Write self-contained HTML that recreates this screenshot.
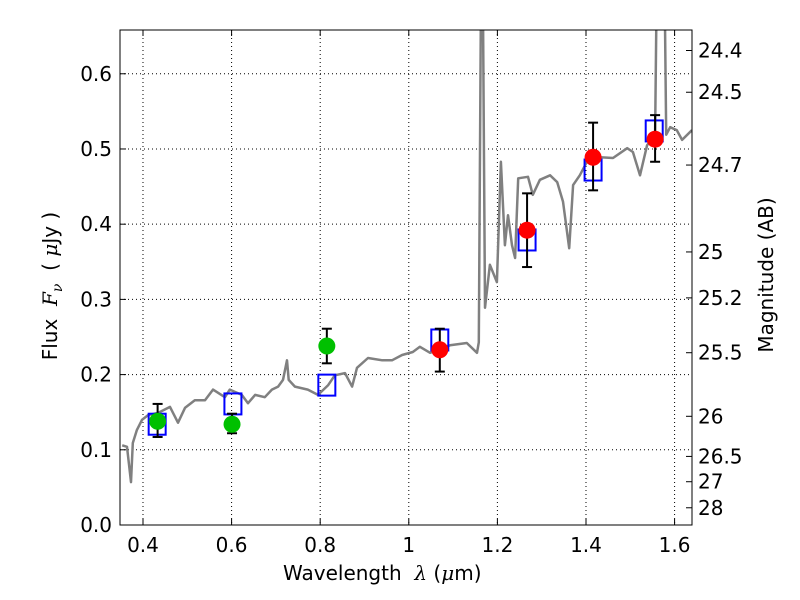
<!DOCTYPE html>
<html><head><meta charset="utf-8"><style>
html,body{margin:0;background:#fff;overflow:hidden;width:800px;height:600px;}
svg{display:block;}
svg text{font-family:"DejaVu Sans","Liberation Sans",sans-serif;fill:#000;}
</style></head><body>
<svg id="chart" width="800" height="600">
<defs><clipPath id="clip"><rect x="120" y="30" width="572" height="495"/></clipPath></defs>
<g id="grid"></g>
<g id="series" clip-path="url(#clip)"></g>
<g id="axes"></g>
</svg>
<script>
const specLam=[0.353,0.364,0.373,0.377,0.386,0.398,0.411,0.434,0.461,0.479,0.495,0.517,0.540,0.558,0.585,0.596,0.623,0.637,0.653,0.675,0.691,0.705,0.716,0.725,0.729,0.743,0.772,0.795,0.818,0.833,0.856,0.872,0.883,0.908,0.940,0.962,0.985,1.009,1.025,1.048,1.093,1.131,1.154,1.158,1.165,1.172,1.183,1.199,1.208,1.217,1.224,1.233,1.240,1.247,1.269,1.280,1.296,1.319,1.335,1.348,1.362,1.371,1.386,1.402,1.432,1.461,1.493,1.506,1.522,1.538,1.556,1.563,1.574,1.581,1.590,1.605,1.617,1.639];
const specFlux=[0.106,0.104,0.057,0.109,0.126,0.140,0.146,0.149,0.157,0.136,0.156,0.166,0.166,0.180,0.170,0.180,0.173,0.162,0.173,0.170,0.180,0.184,0.193,0.219,0.193,0.184,0.180,0.173,0.186,0.199,0.202,0.184,0.209,0.222,0.219,0.219,0.226,0.230,0.237,0.229,0.239,0.242,0.229,0.243,0.9,0.289,0.346,0.323,0.483,0.372,0.412,0.372,0.355,0.461,0.463,0.439,0.459,0.465,0.456,0.430,0.368,0.452,0.465,0.483,0.489,0.488,0.501,0.496,0.465,0.505,0.519,0.9,0.9,0.519,0.529,0.525,0.512,0.525];
const greenLam=[0.433,0.601,0.815];
const greenFlux=[0.138,0.134,0.238];
const greenErrLo=[0.117,0.122,0.215];
const greenErrHi=[0.161,0.148,0.261];
const redLam=[1.070,1.267,1.416,1.556];
const redFlux=[0.233,0.392,0.489,0.513];
const redErrLo=[0.204,0.343,0.445,0.483];
const redErrHi=[0.261,0.441,0.535,0.545];
const modelLam=[0.432,0.603,0.815,1.070,1.267,1.416,1.554];
const modelFlux=[0.134,0.161,0.186,0.246,0.379,0.472,0.524];
const xTicks=[0.4,0.6,0.8,1,1.2,1.4,1.6];
const xTickLabels=["0.4","0.6","0.8","1","1.2","1.4","1.6"];
const yTicks=[0,0.1,0.2,0.3,0.4,0.5,0.6];
const yTickLabels=["0.0","0.1","0.2","0.3","0.4","0.5","0.6"];
const magTicks=[24.4,24.5,24.7,25,25.2,25.5,26,26.5,27,28];

const X0=120,X1=692,Y0=525,Y1=30, LMIN=0.3481,LMAX=1.6393,FMIN=0,FMAX=0.6582;
const sx=l=>X0+(l-LMIN)/(LMAX-LMIN)*(X1-X0);
const sy=f=>Y0-(f-FMIN)/(FMAX-FMIN)*(Y0-Y1);
const magToFlux=m=>Math.pow(10,(23.9-m)/2.5);
const NS="http://www.w3.org/2000/svg";
function mk(tag,attrs,parent){const e=document.createElementNS(NS,tag);for(const k in attrs)e.setAttribute(k,attrs[k]);parent.appendChild(e);return e;}
const grid=document.getElementById('grid'),ser=document.getElementById('series'),ax=document.getElementById('axes');

xTicks.forEach((t,i)=>{const x=sx(t);
 let g=mk('line',{x1:x,x2:x,y1:Y1,y2:Y0,stroke:'#000','stroke-width':1,'stroke-dasharray':'1,3'},grid);
 
 let tk=mk('line',{x1:x,x2:x,y1:Y0,y2:Y0-6,stroke:'#000'},ax);
 
 let tk2=mk('line',{x1:x,x2:x,y1:Y1,y2:Y1+6,stroke:'#000'},ax);
 
 let tx=mk('text',{x:x,y:552,'font-size':20,'text-anchor':'middle'},ax);tx.textContent=xTickLabels[i];
 
});
yTicks.forEach((t,i)=>{const y=sy(t);
 let g=mk('line',{x1:X0,x2:X1,y1:y,y2:y,stroke:'#000','stroke-width':1,'stroke-dasharray':'1,3'},grid);
 
 let tk=mk('line',{x1:X0,x2:X0+6,y1:y,y2:y,stroke:'#000'},ax);
 
 let tx=mk('text',{x:X0-8,y:y+7,'font-size':20,'text-anchor':'end'},ax);tx.textContent=yTickLabels[i];
 
});
magTicks.forEach(m=>{const y=sy(magToFlux(m));
 let tk=mk('line',{x1:X1-6,x2:X1,y1:y,y2:y,stroke:'#000'},ax);
 
 let tx=mk('text',{x:X1+6,y:y+7,'font-size':20},ax);tx.textContent=String(m);
 
});

let pts=specLam.map((l,i)=>sx(l).toFixed(1)+','+sy(specFlux[i]).toFixed(1)).join(' ');
let sp=mk('polyline',{points:pts,fill:'none',stroke:'#808080','stroke-width':2.5,'stroke-linejoin':'round'},ser);


modelLam.forEach((l,i)=>{const x=sx(l),y=sy(modelFlux[i]);
 let r=mk('rect',{x:x-8.5,y:y-10.5,width:17,height:21,fill:'none',stroke:'#0000ff','stroke-width':2},ser);
 
});
function pts2(lams,fl,lo,hi,color,name){
 lams.forEach((l,i)=>{const x=sx(l);
  let e=mk('g',{},ser);
  
  mk('line',{x1:x,x2:x,y1:sy(lo[i]),y2:sy(hi[i]),stroke:'#000','stroke-width':2},e);
  mk('line',{x1:x-5,x2:x+5,y1:sy(lo[i]),y2:sy(lo[i]),stroke:'#000','stroke-width':2},e);
  mk('line',{x1:x-5,x2:x+5,y1:sy(hi[i]),y2:sy(hi[i]),stroke:'#000','stroke-width':2},e);
  let c=mk('circle',{cx:x,cy:sy(fl[i]),r:8.5,fill:color},ser);
  
 });
}
pts2(greenLam,greenFlux,greenErrLo,greenErrHi,'#00c000','optical');
pts2(redLam,redFlux,redErrLo,redErrHi,'#ff0000','nir');

let fr=mk('rect',{x:X0,y:Y1,width:X1-X0,height:Y0-Y1,fill:'none',stroke:'#000','stroke-width':1},ax);

</script>
<div style="position:absolute;left:0;top:0;width:800px;height:600px;pointer-events:none;font-family:'DejaVu Sans','Liberation Sans',sans-serif;">
<div style="position:absolute;left:283px;top:561px;font-size:20px;white-space:nowrap;">Wavelength&nbsp; <i style="font-family:'DejaVu Serif',serif;">λ</i> (<i style="font-family:'DejaVu Serif',serif;">μ</i>m)</div>
<div style="position:absolute;left:-68px;top:272px;width:240px;text-align:center;font-size:20px;white-space:nowrap;transform:rotate(-90deg);">Flux&nbsp; <i style="font-family:'DejaVu Serif',serif;">F<sub style="font-size:14px">ν</sub></i>&nbsp; ( <i style="font-family:'DejaVu Serif',serif;">μ</i>Jy )</div>
<div style="position:absolute;left:646px;top:263px;width:240px;text-align:center;font-size:20px;white-space:nowrap;transform:rotate(-90deg);">Magnitude (AB)</div>
</div>
</body></html>
